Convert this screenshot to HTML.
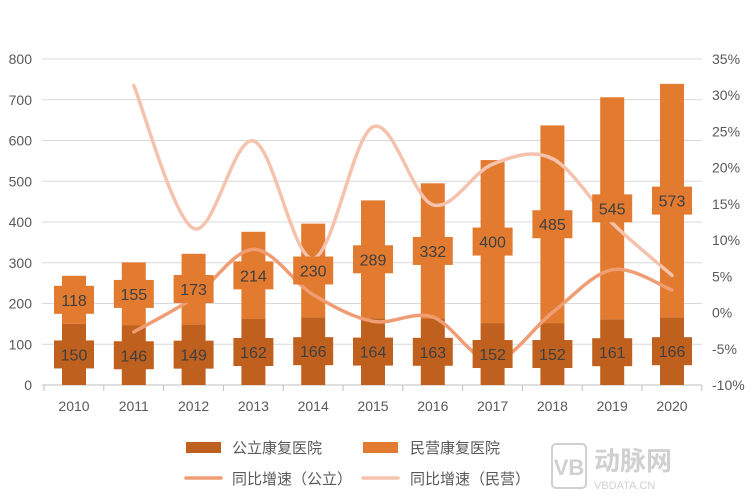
<!DOCTYPE html>
<html><head><meta charset="utf-8"><style>
body{margin:0;background:#fff;width:755px;height:498px;overflow:hidden;font-family:"Liberation Sans","Noto Sans CJK SC",sans-serif}
</style></head><body>
<svg id="s" width="755" height="498" xmlns="http://www.w3.org/2000/svg" font-family="Liberation Sans, Noto Sans CJK SC, sans-serif"></svg>
<script>
const s=document.getElementById('s');let h='';
const pub=[150,146,149,162,166,164,163,152,152,161,166];
const pri=[118,155,173,214,230,289,332,400,485,545,573];
const X=i=>74+59.8*i, Y=v=>385-v*0.4075, P=p=>385-(p+10)*7.244;
for(let k=0;k<=8;k++){const y=Y(k*100);h+=`<line x1="42" x2="702" y1="${y}" y2="${y}" stroke="${k?'#d9d9d9':'#bfbfbf'}" stroke-width="1"/>`;
h+=`<text x="32" y="${y+5}" font-size="14" fill="#595959" text-anchor="end">${k*100}</text>`;}
for(let k=0;k<=9;k++){const p=-10+5*k;h+=`<text x="712" y="${P(p)+5}" font-size="14" fill="#595959">${p}%</text>`;}
for(let i=0;i<=11;i++){const x=44+59.8*i;h+=`<line x1="${x}" x2="${x}" y1="385" y2="391" stroke="#bfbfbf"/>`;}
for(let i=0;i<11;i++){const x=X(i);h+=`<rect x="${x-12}" y="${Y(pub[i])}" width="24" height="${385-Y(pub[i])}" fill="#c0601f"/>`;
h+=`<rect x="${x-12}" y="${Y(pub[i]+pri[i])}" width="24" height="${Y(pub[i])-Y(pub[i]+pri[i])}" fill="#e27b2f"/>`;
h+=`<text x="${x}" y="${411}" font-size="14" fill="#595959" text-anchor="middle">${2010+i}</text>`;}
function path(pts){let d=`M${pts[0][0]},${pts[0][1]}`;for(let i=0;i<pts.length-1;i++){const p0=pts[i-1]||pts[i],p1=pts[i],p2=pts[i+1],p3=pts[i+2]||p2;
d+=` C${p1[0]+(p2[0]-p0[0])/6},${p1[1]+(p2[1]-p0[1])/6} ${p2[0]-(p3[0]-p1[0])/6},${p2[1]-(p3[1]-p1[1])/6} ${p2[0]},${p2[1]}`;}return d;}
const gpr=[],gpu=[];for(let i=1;i<11;i++){gpr.push([X(i),P((pri[i]/pri[i-1]-1)*100)]);gpu.push([X(i),P((pub[i]/pub[i-1]-1)*100)]);}
h+=`<path d="${path(gpr)}" fill="none" stroke="#f5c3ad" stroke-width="3.5" stroke-linecap="round"/>`;
h+=`<path d="${path(gpu)}" fill="none" stroke="#f09d74" stroke-width="3.5" stroke-linecap="round"/>`;
for(let i=0;i<11;i++){const x=X(i);const yc=(385+Y(pub[i]))/2,yp=(Y(pub[i])+Y(pub[i]+pri[i]))/2;
h+=`<rect x="${x-20}" y="${yc-14}" width="40" height="28" fill="#c0601f"/><text x="${x}" y="${yc+6}" font-size="16" fill="#3f3f3f" text-anchor="middle">${pub[i]}</text>`;
h+=`<rect x="${x-20}" y="${yp-14}" width="40" height="28" fill="#e27b2f"/><text x="${x}" y="${yp+6}" font-size="16" fill="#3f3f3f" text-anchor="middle">${pri[i]}</text>`;}
h+=`<rect x="186" y="442" width="35" height="11" fill="#c0601f"/><text x="232" y="453" font-size="15" fill="#595959">公立康复医院</text>`;
h+=`<rect x="363" y="442" width="35" height="11" fill="#e27b2f"/><text x="410" y="453" font-size="15" fill="#595959">民营康复医院</text>`;
h+=`<line x1="186" x2="221" y1="478" y2="478" stroke="#f09d74" stroke-width="3.5" stroke-linecap="round"/><text x="232" y="484" font-size="15" fill="#595959">同比增速（公立）</text>`;
h+=`<line x1="363" x2="398" y1="478" y2="478" stroke="#f5c3ad" stroke-width="3.5" stroke-linecap="round"/><text x="410" y="484" font-size="15" fill="#595959">同比增速（民营）</text>`;
h+=`<rect x="552" y="444" width="34" height="44" rx="4" fill="none" stroke="#d0d0d0" stroke-width="2"/><text x="569" y="475" font-size="22" font-weight="bold" fill="#d0d0d0" text-anchor="middle">VB</text>`;
h+=`<text x="594" y="470" font-size="26" font-weight="bold" fill="#d0d0d0">动脉网</text><text x="594" y="489" font-size="11" fill="#d0d0d0">VBDATA.CN</text>`;
s.innerHTML=h;
</script>
</body></html>
